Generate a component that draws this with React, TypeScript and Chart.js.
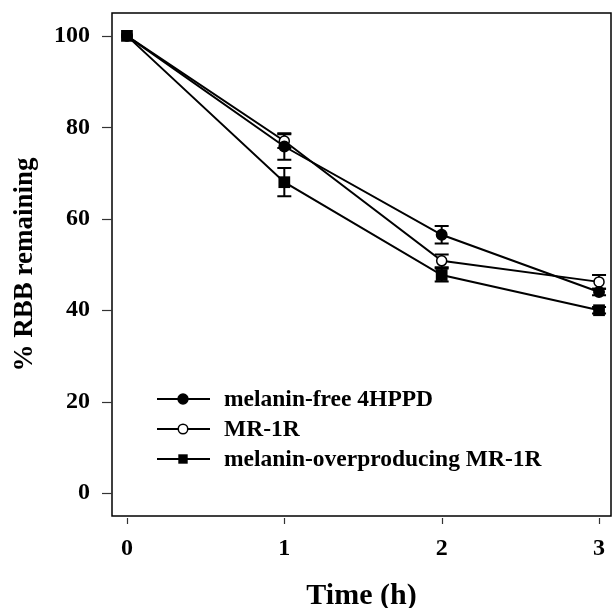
import { useEffect, useRef } from 'react';
import { Chart, registerables } from 'chart.js';

Chart.register(...registerables);

const timePoints = [0, 1, 2, 3];
const freeMean = [100, 75.8, 56.5, 44.0];
const freeErr = [0, 2.9, 1.9, 0.7];
const mr1rMean = [100, 77.0, 50.8, 46.2];
const mr1rErr = [0, 1.5, 1.4, 1.5];
const overMean = [100, 68.0, 47.7, 40.0];
const overErr = [0, 3.1, 1.4, 0.7];
const seriesLabels = ['melanin-free 4HPPD', 'MR-1R', 'melanin-overproducing MR-1R'];
const xTicks = [0, 1, 2, 3];
const yTicks = [0, 20, 40, 60, 80, 100];
const xTitle = 'Time (h)';
const yTitle = '% RBB remaining';

const FONT = "'Liberation Serif', 'Times New Roman', serif";

const means = [freeMean, mr1rMean, overMean];
const errs = [freeErr, mr1rErr, overErr];
const styles = [
  { pointStyle: 'circle', radius: 5.2, fill: '#000' },
  { pointStyle: 'circle', radius: 5, fill: '#fff' },
  { pointStyle: 'rect', radius: 8.3, fill: '#000' },
];

function drawMarker(ctx: CanvasRenderingContext2D, i: number, x: number, y: number, scale = 1) {
  const s = styles[i];
  ctx.save();
  ctx.fillStyle = s.fill;
  ctx.strokeStyle = '#000';
  ctx.lineWidth = 1.5;
  if (s.pointStyle === 'rect') {
    const h = Math.SQRT1_2 * s.radius * scale;
    ctx.fillRect(x - h, y - h, 2 * h, 2 * h);
  } else {
    ctx.beginPath();
    ctx.arc(x, y, s.radius * scale, 0, Math.PI * 2);
    ctx.fill();
    ctx.stroke();
  }
  ctx.restore();
}

const framePlugin = {
  id: 'frame',
  beforeDatasetsDraw(chart: any) {
    const { ctx, chartArea, scales } = chart;
    const xs = scales.x;
    const ys = scales.y;
    ctx.save();
    ctx.strokeStyle = '#000';
    ctx.lineWidth = 1.5;
    ctx.strokeRect(chartArea.left, chartArea.top, chartArea.right - chartArea.left, chartArea.bottom - chartArea.top);
    ctx.strokeStyle = '#333';
    ctx.lineWidth = 1.2;
    for (const v of yTicks) {
      const y = Math.round(ys.getPixelForValue(v)) + 0.5;
      ctx.beginPath();
      ctx.moveTo(chartArea.left - 10, y);
      ctx.lineTo(chartArea.left, y);
      ctx.stroke();
    }
    for (const v of xTicks) {
      const x = Math.round(xs.getPixelForValue(v)) + 0.5;
      ctx.beginPath();
      ctx.moveTo(x, chartArea.bottom + 2);
      ctx.lineTo(x, chartArea.bottom + 8);
      ctx.stroke();
    }
    ctx.strokeStyle = '#000';
    ctx.lineWidth = 2;
    means.forEach((m, si) => {
      m.forEach((v, j) => {
        const e = errs[si][j];
        if (!e) return;
        const x = xs.getPixelForValue(timePoints[j]);
        const yt = ys.getPixelForValue(v + e);
        const yb = ys.getPixelForValue(v - e);
        ctx.beginPath();
        ctx.moveTo(x, yt);
        ctx.lineTo(x, yb);
        ctx.moveTo(x - 7, yt);
        ctx.lineTo(x + 7, yt);
        ctx.moveTo(x - 7, yb);
        ctx.lineTo(x + 7, yb);
        ctx.stroke();
      });
    });
    ctx.restore();
  },
  afterDraw(chart: any) {
    const { ctx } = chart;
    ctx.save();
    const rows = [399, 429, 459];
    seriesLabels.forEach((label, i) => {
      const y = rows[i];
      ctx.strokeStyle = '#000';
      ctx.lineWidth = 2;
      ctx.beginPath();
      ctx.moveTo(157, y);
      ctx.lineTo(210, y);
      ctx.stroke();
      drawMarker(ctx, i, 183, y, i === 2 ? 0.8 : 0.95);
      ctx.fillStyle = '#000';
      ctx.font = `bold 23.5px ${FONT}`;
      ctx.textAlign = 'left';
      ctx.textBaseline = 'middle';
      ctx.fillText(label, 224, y + 1);
    });
    ctx.restore();
  },
};

export default function App() {
  const ref = useRef<HTMLCanvasElement | null>(null);

  useEffect(() => {
    if (!ref.current) return;
    const datasets = means.map((m, i) => ({
      label: seriesLabels[i],
      data: m.map((v, j) => ({ x: timePoints[j], y: v })),
      borderColor: '#000',
      borderWidth: 2,
      backgroundColor: styles[i].fill,
      pointBackgroundColor: styles[i].fill,
      pointBorderColor: '#000',
      pointBorderWidth: i === 2 ? 0 : 1.5,
      pointStyle: styles[i].pointStyle,
      pointRadius: styles[i].radius,
      pointHoverRadius: styles[i].radius,
      tension: 0,
      fill: false,
    }));

    const chart = new Chart(ref.current, {
      type: 'line',
      data: { datasets },
      plugins: [framePlugin],
      options: {
        animation: false,
        responsive: false,
        devicePixelRatio: 1,
        layout: { autoPadding: false, padding: { top: 13, right: 1, left: 0, bottom: 0 } },
        plugins: { legend: { display: false }, tooltip: { enabled: false } },
        scales: {
          x: {
            type: 'linear',
            min: -0.095,
            max: 3.076,
            afterBuildTicks: (s: any) => {
              s.ticks = xTicks.map((v) => ({ value: v }));
            },
            afterFit: (s: any) => {
              s.height = 92;
            },
            grid: { display: true, drawOnChartArea: false, drawTicks: true, tickLength: 21, tickColor: 'rgba(0,0,0,0)' },
            border: { display: false },
            ticks: {
              padding: 0,
              color: '#000',
              font: { family: FONT, size: 24, weight: 'bold', lineHeight: 1 },
              maxRotation: 0,
            },
            title: {
              display: true,
              text: xTitle,
              color: '#000',
              font: { family: FONT, size: 30, weight: 'bold', lineHeight: 0.8 },
              padding: 0,
            },
          },
          y: {
            type: 'linear',
            min: -5,
            max: 105,
            afterBuildTicks: (s: any) => {
              s.ticks = yTicks.map((v) => ({ value: v }));
            },
            afterFit: (s: any) => {
              s.width = 112;
            },
            grid: { display: true, drawOnChartArea: false, drawTicks: true, tickLength: 22, tickColor: 'rgba(0,0,0,0)' },
            border: { display: false },
            ticks: {
              padding: 0,
              color: '#000',
              font: { family: FONT, size: 24, weight: 'bold', lineHeight: 1 },
            },
            title: {
              display: true,
              text: yTitle,
              color: '#000',
              font: { family: FONT, size: 27, weight: 'bold', lineHeight: 1.2 },
              padding: 9,
            },
          },
        },
      } as any,
    });
    return () => chart.destroy();
  }, []);

  return (
    <div style={{ position: 'absolute', left: 0, top: 0, width: 612, height: 608, background: '#fff' }}>
      <canvas ref={ref} width={612} height={608} style={{ width: 612, height: 608, display: 'block' }} />
    </div>
  );
}
